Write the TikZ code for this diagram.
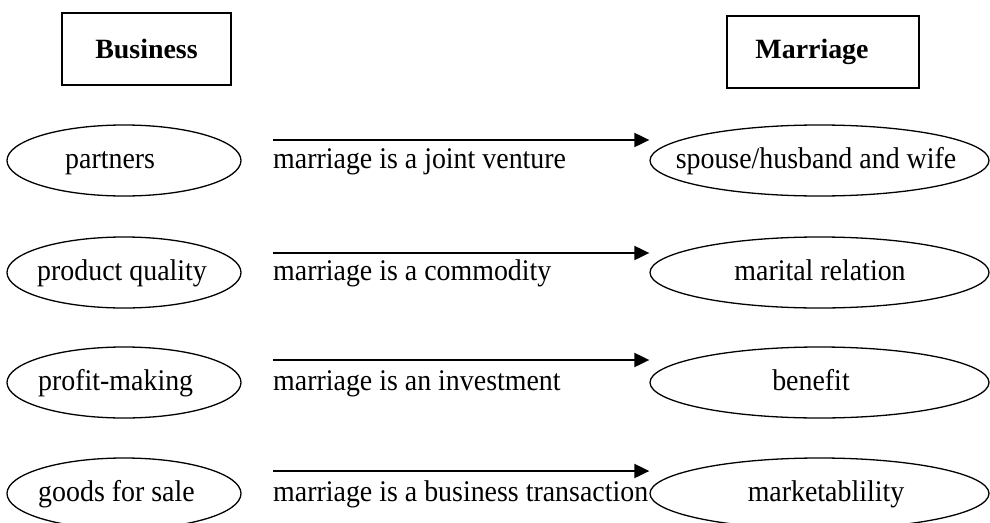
\documentclass[tikz,border=0pt]{standalone}
\usepackage{fontspec}
\setmainfont{Liberation Serif}
\newfontfamily\regfont[FakeStretch=0.93]{Liberation Serif}
\usetikzlibrary{shapes.geometric,arrows.meta}
\begin{document}
\begin{tikzpicture}[x=1pt,y=-1pt,
  every node/.style={font=\regfont\fontsize{30}{36}\selectfont},
  hdr/.style={draw, line width=1.3pt, minimum height=72pt, inner sep=0pt,
              font=\rmfamily\fontsize{27.9}{33}\selectfont\bfseries},
  oval/.style={draw, ellipse, line width=1.3pt, minimum width=234pt, minimum height=71pt, inner sep=0pt},
  roval/.style={oval, minimum width=339pt},
  ltxt/.style={inner sep=0pt, anchor=base west},
  ctxt/.style={inner sep=0pt, anchor=base},
  arr/.style={line width=2pt, -{Triangle[length=15pt,width=14pt]}}]
\useasboundingbox (0,0) rectangle (990,522);
\clip (0,0) rectangle (990,522);

% headers
\node[hdr, minimum width=169pt] (hb) at (146.5,49) {Business};
\node[hdr, minimum width=192pt] (hm) at (823,52) {Marriage\hspace*{22pt}};

% row 1
\node[oval]  (l1) at (124,160.5) {};
\node[roval] (r1) at (819.5,160.5) {};
\node[ltxt] (l1t) at (65,168.5) {partners};
\node[ctxt] (r1t) at (816,168.5) {spouse/husband and wife};
\node[ltxt] (m1t) at (273,168.5) {marriage is a joint venture};
\coordinate (a1) at (273,140);
\draw[arr] (a1) -- (r1.west |- a1);

% row 2
\node[oval]  (l2) at (124,272.5) {};
\node[roval] (r2) at (819.5,272.5) {};
\node[ltxt] (l2t) at (37,280.5) {product quality};
\node[ctxt] (r2t) at (820,280.5) {marital relation};
\node[ltxt] (m2t) at (273,280.5) {marriage is a commodity};
\coordinate (a2) at (273,253);
\draw[arr] (a2) -- (r2.west |- a2);

% row 3
\node[oval]  (l3) at (124,382.5) {};
\node[roval] (r3) at (819.5,382.5) {};
\node[ltxt] (l3t) at (38,390.5) {profit-making};
\node[ctxt] (r3t) at (811,390.5) {benefit};
\node[ltxt] (m3t) at (273,390.5) {marriage is an investment};
\coordinate (a3) at (273,360);
\draw[arr] (a3) -- (r3.west |- a3);

% row 4
\node[oval]  (l4) at (124,493.5) {};
\node[roval] (r4) at (819.5,493.5) {};
\node[ltxt] (l4t) at (38,501.5) {goods for sale};
\node[ctxt] (r4t) at (826,501.5) {marketablility};
\node[ltxt] (m4t) at (273,501.5) {marriage is a business transaction};
\coordinate (a4) at (273,471);
\draw[arr] (a4) -- (r4.west |- a4);
\end{tikzpicture}
\end{document}
